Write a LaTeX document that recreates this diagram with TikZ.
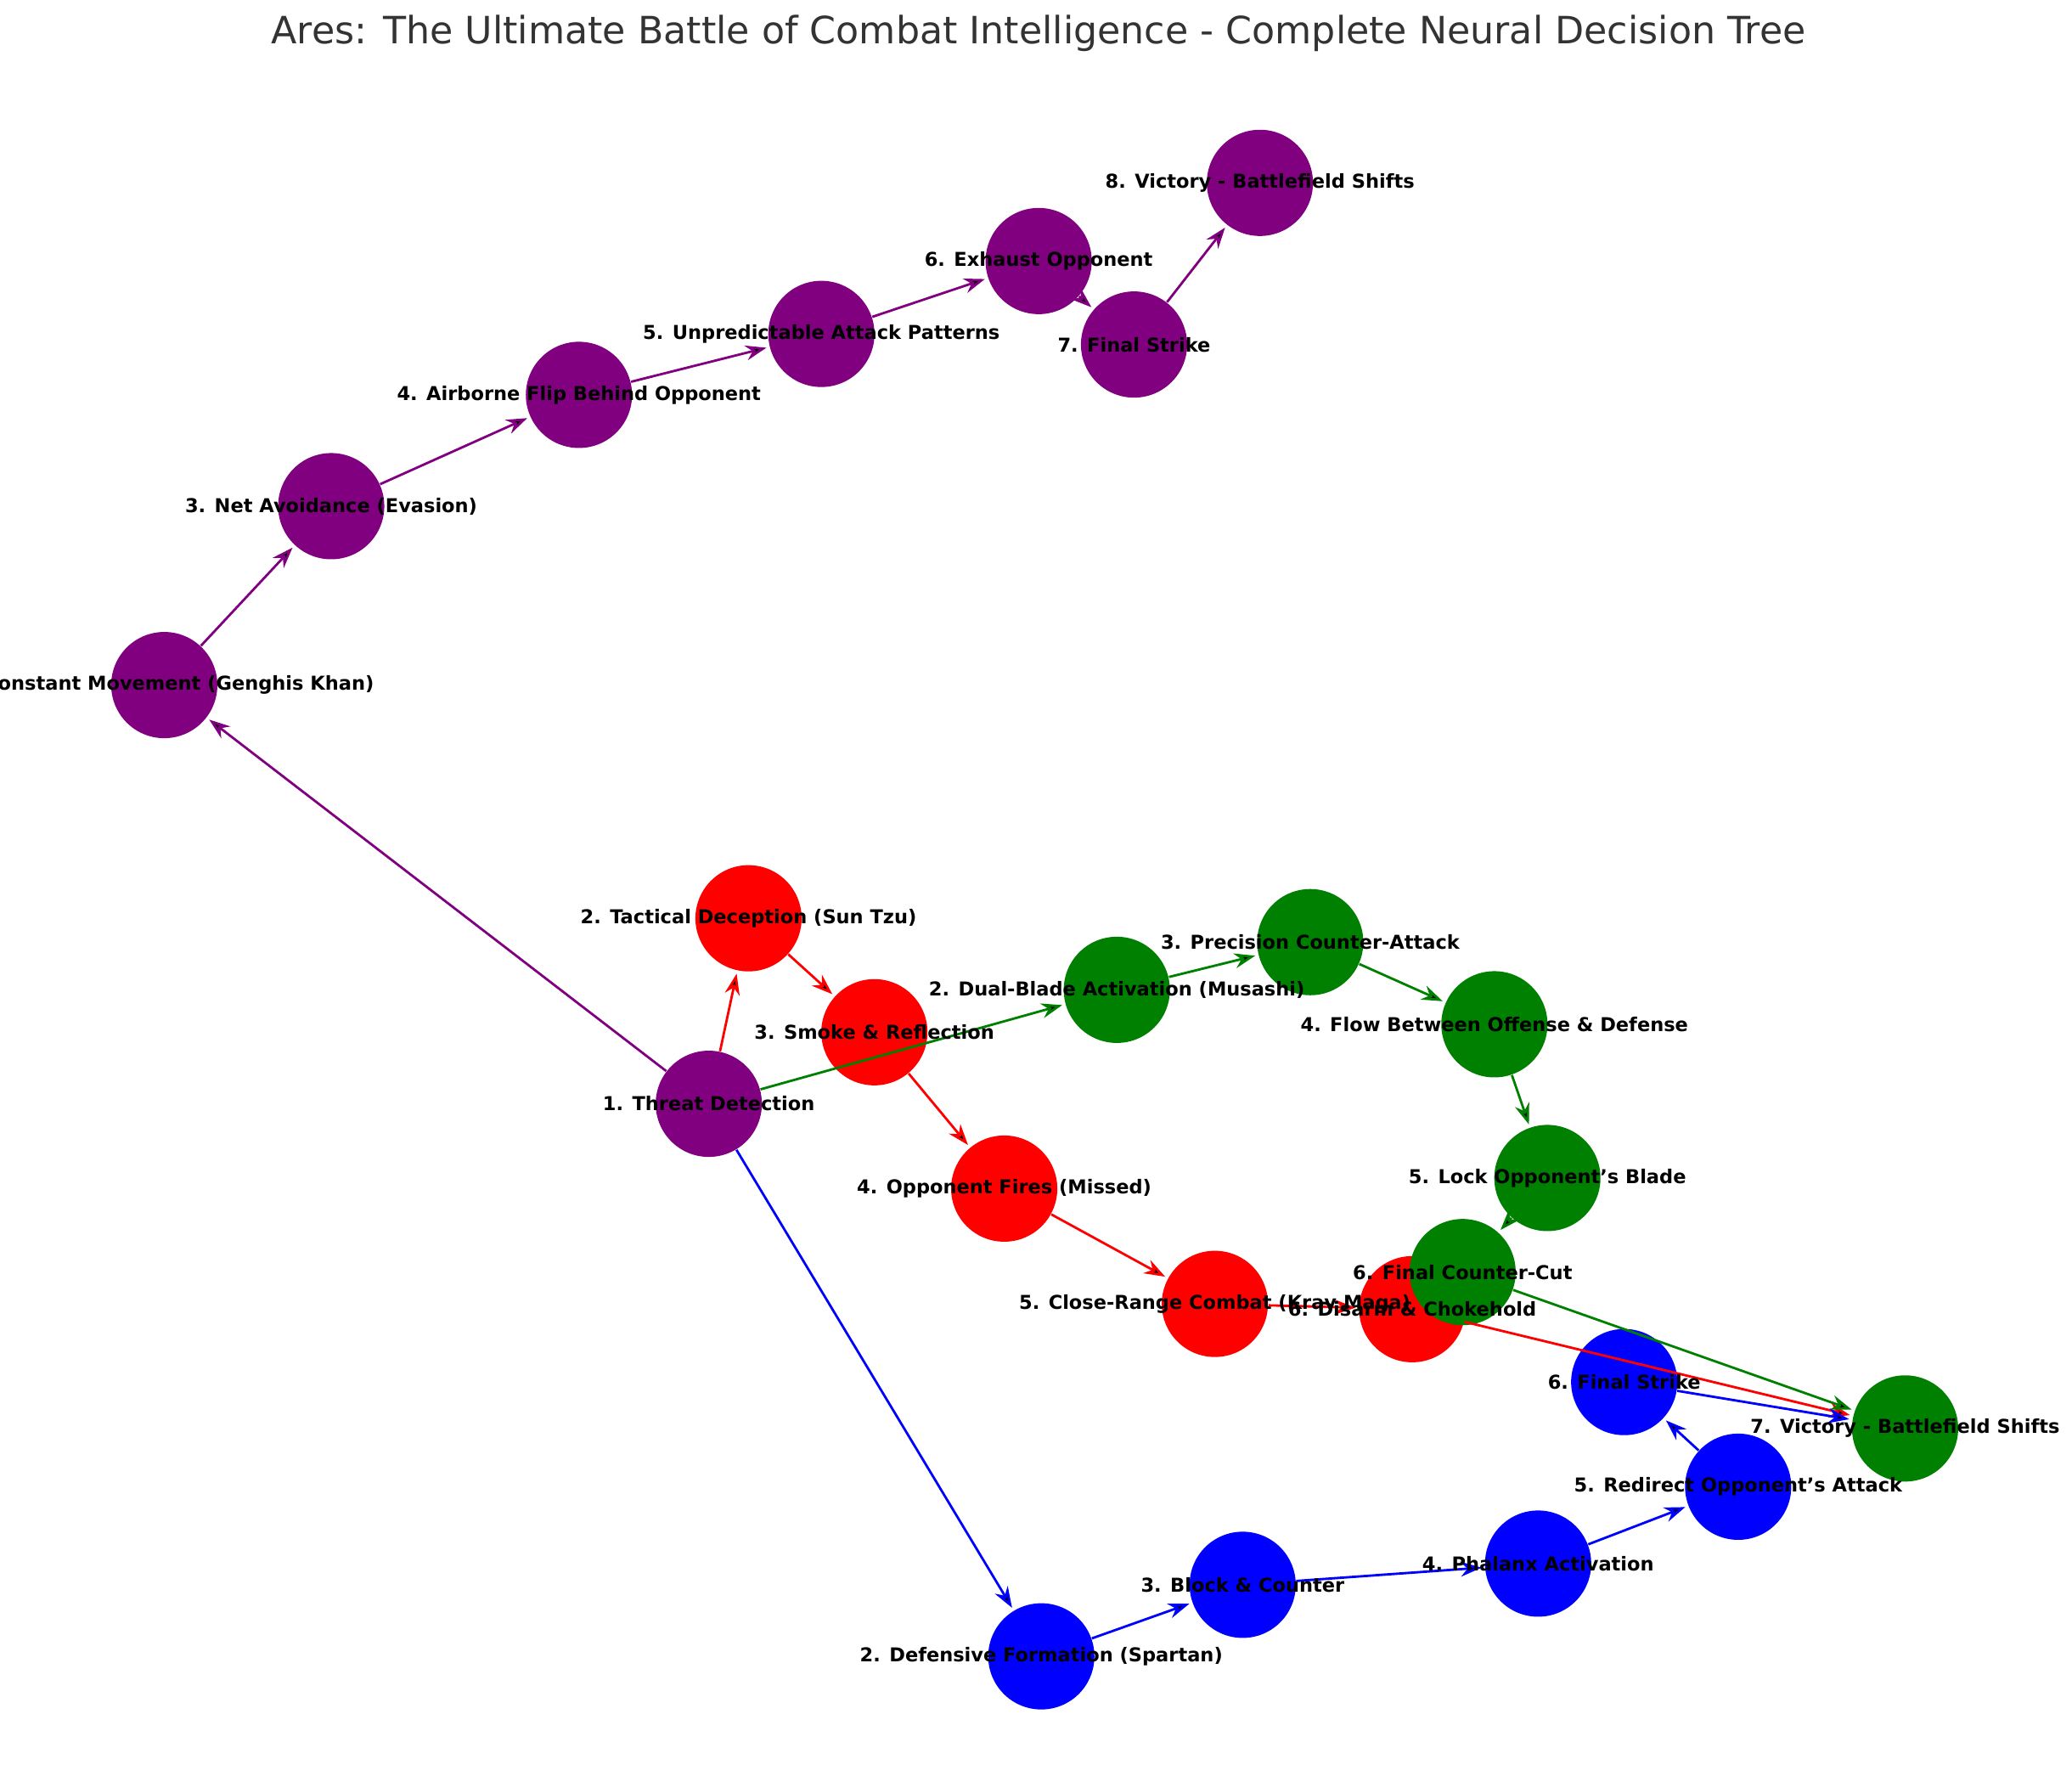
\documentclass[tikz,border=0pt]{standalone}
\usepackage{fontspec}
\setmainfont{DejaVu Sans}
\usetikzlibrary{arrows.meta}
\definecolor{mplpurple}{HTML}{800080}
\definecolor{mplgreen}{HTML}{008000}

\begin{document}
\begin{tikzpicture}[x=0.0156cm,y=-0.0156cm,
		dot/.style={circle,fill=#1,minimum size=1.25cm,inner sep=0pt},
		lbl/.style={font=\bfseries\fontsize{6.4}{8}\selectfont},
		>={Stealth[length=7pt,width=5pt]},
		link/.style={->,draw=#1,line width=0.8pt,shorten >=1pt}]
	\useasboundingbox (0,0) rectangle (1564,1340);
	\node[font=\fontsize{12.6}{15}\selectfont,text=black!80] (title) at (784,25) {Ares: The Ultimate Battle of Combat Intelligence - Complete Neural Decision Tree};

	% circles
	\node[dot=mplpurple] (p1) at (535,833) {};
	\node[dot=mplpurple] (p2) at (124,517) {};
	\node[dot=mplpurple] (p3) at (250,382) {};
	\node[dot=mplpurple] (p4) at (437,298) {};
	\node[dot=mplpurple] (p5) at (620,252) {};
	\node[dot=mplpurple] (p6) at (784,197) {};
	\node[dot=mplpurple] (p7) at (856,260) {};
	\node[dot=mplpurple] (p8) at (951,138) {};
	\node[dot=red] (r2) at (565,693) {};
	\node[dot=red] (r3) at (660,779) {};
	\node[dot=red] (r4) at (758,897) {};
	\node[dot=red] (r5) at (917,984) {};
	\node[dot=red] (r6) at (1066,988) {};
	\node[dot=mplgreen] (g2) at (843,747) {};
	\node[dot=mplgreen] (g3) at (989,711) {};
	\node[dot=mplgreen] (g4) at (1128,773) {};
	\node[dot=mplgreen] (g5) at (1168,889) {};
	\node[dot=mplgreen] (g6) at (1104,960) {};
	\node[dot=mplgreen] (g7) at (1438,1078) {};
	\node[dot=blue] (b2) at (786,1250) {};
	\node[dot=blue] (b3) at (938,1196) {};
	\node[dot=blue] (b4) at (1161,1180) {};
	\node[dot=blue] (b5) at (1312,1122) {};
	\node[dot=blue] (b6) at (1226,1043) {};

	% connectors
	\path[link=mplpurple]
		(p1) edge (p2) (p2) edge (p3) (p3) edge (p4) (p4) edge (p5)
		(p5) edge (p6) (p6) edge (p7) (p7) edge (p8);
	\path[link=red]
		(p1) edge (r2) (r2) edge (r3) (r3) edge (r4) (r4) edge (r5)
		(r5) edge (r6) (r6) edge (g7);
	\path[link=mplgreen]
		(p1) edge (g2) (g2) edge (g3) (g3) edge (g4) (g4) edge (g5)
		(g5) edge (g6) (g6) edge (g7);
	\path[link=blue]
		(p1) edge (b2) (b2) edge (b3) (b3) edge (b4) (b4) edge (b5)
		(b5) edge (b6) (b6) edge (g7);

	% labels
	\node[lbl] at (p1) {1. Threat Detection};
	\node[lbl] at (p2) {2. Constant Movement (Genghis Khan)};
	\node[lbl] at (p3) {3. Net Avoidance (Evasion)};
	\node[lbl] at (p4) {4. Airborne Flip Behind Opponent};
	\node[lbl] at (p5) {5. Unpredictable Attack Patterns};
	\node[lbl] at (p6) {6. Exhaust Opponent};
	\node[lbl] at (p7) {7. Final Strike};
	\node[lbl] at (p8) {8. Victory - Battlefield Shifts};
	\node[lbl] at (r2) {2. Tactical Deception (Sun Tzu)};
	\node[lbl] at (r3) {3. Smoke \& Reflection};
	\node[lbl] at (r4) {4. Opponent Fires (Missed)};
	\node[lbl] at (r5) {5. Close-Range Combat (Krav Maga)};
	\node[lbl] at (r6) {6. Disarm \& Chokehold};
	\node[lbl] at (g2) {2. Dual-Blade Activation (Musashi)};
	\node[lbl] at (g3) {3. Precision Counter-Attack};
	\node[lbl] at (g4) {4. Flow Between Offense \& Defense};
	\node[lbl] at (g5) {5. Lock Opponent’s Blade};
	\node[lbl] at (g6) {6. Final Counter-Cut};
	\node[lbl] at (g7) {7. Victory - Battlefield Shifts};
	\node[lbl] at (b2) {2. Defensive Formation (Spartan)};
	\node[lbl] at (b3) {3. Block \& Counter};
	\node[lbl] at (b4) {4. Phalanx Activation};
	\node[lbl] at (b5) {5. Redirect Opponent’s Attack};
	\node[lbl] at (b6) {6. Final Strike};
\end{tikzpicture}
\end{document}
